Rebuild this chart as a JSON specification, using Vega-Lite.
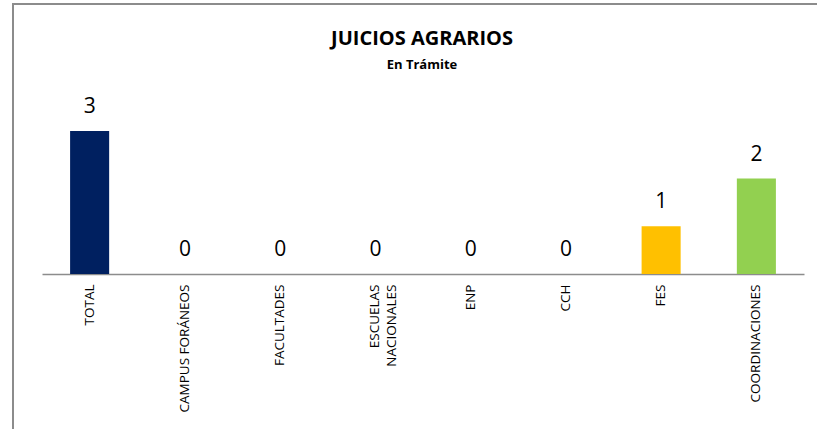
{
  "$schema": "https://vega.github.io/schema/vega-lite/v6.json",
  "width": 818,
  "height": 440,
  "padding": {"left": 13, "top": 4, "right": 0, "bottom": 0},
  "background": "white",
  "title": {
    "text": "JUICIOS AGRARIOS",
    "subtitle": "En Trámite",
    "anchor": "middle",
    "frame": "group",
    "offset": -68,
    "font": "Open Sans",
    "fontSize": 20,
    "fontWeight": "bold",
    "color": "#000000",
    "subtitleFont": "Open Sans",
    "subtitleFontSize": 13,
    "subtitleFontWeight": "bold",
    "subtitleColor": "#000000",
    "subtitlePadding": 10
  },
  "data": {
    "values": [
      {"area": "TOTAL", "juicios": 3},
      {"area": "CAMPUS FORÁNEOS", "juicios": 0},
      {"area": "FACULTADES", "juicios": 0},
      {"area": "ESCUELAS NACIONALES", "juicios": 0},
      {"area": "ENP", "juicios": 0},
      {"area": "CCH", "juicios": 0},
      {"area": "FES", "juicios": 1},
      {"area": "COORDINACIONES", "juicios": 2}
    ]
  },
  "encoding": {
    "x": {
      "field": "area",
      "type": "nominal",
      "sort": null,
      "scale": {"range": [29, 791], "paddingInner": 0.59, "paddingOuter": 0.295},
      "axis": {
        "title": null,
        "orient": "bottom",
        "offset": -170,
        "labelAngle": -90,
        "labelAlign": "right",
        "labelBaseline": "middle",
        "labelFont": "Open Sans",
        "labelFontSize": 13.5,
        "labelColor": "#000000",
        "labelPadding": 10,
        "labelLineHeight": 17,
        "labelOverlap": false,
        "ticks": false,
        "grid": false,
        "domainColor": "#8c8c8c",
        "domainWidth": 1.5,
        "labelExpr": "datum.value == 'ESCUELAS NACIONALES' ? ['ESCUELAS', 'NACIONALES'] : datum.value"
      }
    },
    "y": {
      "field": "juicios",
      "type": "quantitative",
      "scale": {"domain": [-3.564, 5.66], "nice": false, "zero": false},
      "axis": null
    }
  },
  "layer": [
    {
      "mark": {"type": "bar"},
      "encoding": {
        "color": {
          "field": "area",
          "type": "nominal",
          "legend": null,
          "scale": {
            "domain": ["TOTAL", "CAMPUS FORÁNEOS", "FACULTADES", "ESCUELAS NACIONALES", "ENP", "CCH", "FES", "COORDINACIONES"],
            "range": ["#002060", "#4472C4", "#4472C4", "#4472C4", "#4472C4", "#4472C4", "#FFC000", "#92D050"]
          }
        }
      }
    },
    {
      "mark": {"type": "text", "baseline": "alphabetic", "dy": -18, "font": "Open Sans", "fontSize": 21, "color": "#000000"},
      "encoding": {"text": {"field": "juicios", "type": "quantitative"}}
    }
  ],
  "config": {
    "view": {"stroke": "#8c8c8c", "strokeWidth": 2}
  }
}
